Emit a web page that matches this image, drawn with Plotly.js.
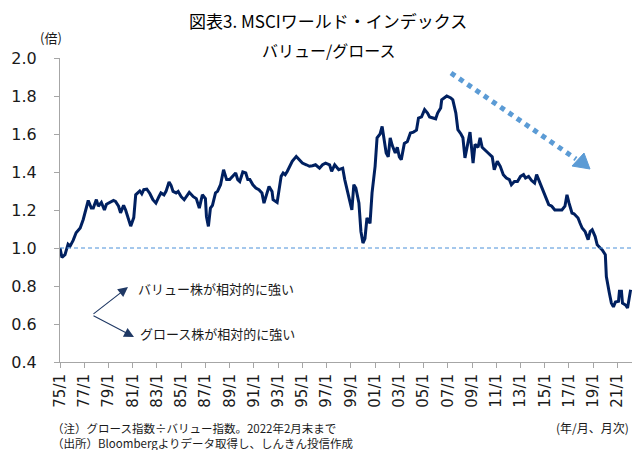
<!DOCTYPE html>
<html>
<head>
<meta charset="utf-8">
<script src="https://cdn.plot.ly/plotly-3.0.1.min.js"></script>
<style>html,body{margin:0;padding:0;background:#fff;}#chart{width:632px;height:450px;}</style>
</head>
<body>
<div id="chart"></div>
<script>
// Monthly points (year-month)
var months = [
"1975-01","1975-03","1975-06","1975-09","1975-11","1976-02","1976-05","1976-09","1976-12","1977-02",
"1977-05","1977-08","1977-10","1978-01","1978-03","1978-06","1978-09","1978-11","1979-02","1979-06",
"1979-08","1979-11","1980-01","1980-04","1980-06","1980-08","1980-11","1981-02","1981-04","1981-06",
"1981-08","1981-10","1981-12","1982-03","1982-06","1982-09","1982-12","1983-03","1983-05","1983-08",
"1983-10","1984-01","1984-03","1984-05","1984-08","1984-10","1985-01","1985-04","1985-06","1985-09",
"1986-01","1986-04","1986-07","1986-10","1987-01","1987-02","1987-04","1987-06","1987-08","1987-11",
"1988-01","1988-04","1988-07","1988-10","1989-01","1989-04","1989-07","1989-09","1989-11","1990-02",
"1990-05","1990-07","1990-09","1990-12","1991-03","1991-06","1991-09","1991-11","1992-01","1992-04",
"1992-07","1992-08","1992-12","1993-04","1993-06","1993-08","1993-10","1994-01","1994-03","1994-07",
"1994-10","1995-01","1995-05","1995-08","1995-11","1996-02","1996-06","1996-09","1996-12","1997-04",
"1997-06","1997-09","1998-01","1998-05","1998-07","1998-10","1999-02","1999-04","1999-06","1999-09",
"1999-11","2000-01","2000-03","2000-05","2000-08","2000-10","2001-01","2001-03","2001-06","2001-08",
"2001-10","2001-12","2002-02","2002-04","2002-06","2002-09","2002-11","2003-01","2003-03","2003-06",
"2003-09","2003-12","2004-03","2004-06","2004-08","2004-11","2005-02","2005-05","2005-07","2005-10",
"2006-01","2006-03","2006-06","2006-07","2006-10","2006-12","2007-04","2007-06","2007-09","2007-11",
"2008-02","2008-04","2008-06","2008-09","2008-11","2009-02","2009-04","2009-07","2009-09","2009-11",
"2010-02","2010-05","2010-09","2010-11","2011-02","2011-05","2011-08","2011-11","2012-02","2012-04",
"2012-07","2012-10","2013-01","2013-04","2013-06","2013-09","2013-12","2014-03","2014-05","2014-07",
"2014-10","2015-01","2015-05","2015-08","2015-11","2016-02","2016-06","2016-09","2016-11","2017-01",
"2017-04","2017-06","2017-10","2017-12","2018-02","2018-05","2018-08","2018-10","2018-12","2019-03",
"2019-05","2019-08","2019-10","2020-01","2020-02","2020-05","2020-07","2020-09","2020-11","2021-02",
"2021-03","2021-05","2021-06","2021-09","2021-11","2022-02"
];
// Value / Growth ratio (times)
var ratio = [
1.00,0.95,0.965,1.02,1.01,1.04,1.08,1.105,1.15,1.19,
1.25,1.21,1.21,1.255,1.22,1.24,1.20,1.23,1.24,1.25,
1.245,1.22,1.185,1.225,1.20,1.165,1.115,1.16,1.28,1.29,
1.30,1.285,1.307,1.31,1.287,1.254,1.236,1.27,1.29,1.28,
1.298,1.347,1.33,1.298,1.29,1.298,1.27,1.254,1.27,1.293,
1.27,1.26,1.21,1.28,1.26,1.166,1.114,1.21,1.225,1.29,
1.298,1.333,1.412,1.36,1.36,1.377,1.395,1.36,1.35,1.40,
1.395,1.36,1.36,1.333,1.316,1.307,1.29,1.236,1.27,1.324,
1.298,1.254,1.24,1.377,1.395,1.386,1.403,1.438,1.456,1.482,
1.465,1.447,1.438,1.43,1.433,1.438,1.42,1.438,1.447,1.438,
1.403,1.438,1.412,1.42,1.36,1.298,1.20,1.333,1.316,1.237,
1.087,1.026,1.05,1.158,1.13,1.29,1.43,1.58,1.60,1.64,
1.57,1.50,1.48,1.58,1.54,1.50,1.53,1.48,1.465,1.55,
1.56,1.605,1.61,1.62,1.684,1.69,1.728,1.71,1.69,1.685,
1.68,1.71,1.737,1.78,1.79,1.80,1.79,1.78,1.71,1.623,
1.60,1.58,1.474,1.57,1.61,1.447,1.545,1.53,1.58,1.53,
1.517,1.50,1.48,1.412,1.456,1.43,1.386,1.368,1.36,1.333,
1.35,1.35,1.377,1.386,1.368,1.377,1.355,1.342,1.386,1.36,
1.316,1.272,1.228,1.22,1.20,1.20,1.20,1.22,1.28,1.237,
1.184,1.18,1.158,1.13,1.105,1.087,1.044,1.087,1.096,1.06,
1.017,1.00,0.99,0.965,0.85,0.763,0.71,0.69,0.716,0.72,
0.772,0.772,0.71,0.70,0.684,0.78
];
var tickLabels = ["75/1","77/1","79/1","81/1","83/1","85/1","87/1","89/1","91/1","93/1","95/1","97/1",
                  "99/1","01/1","03/1","05/1","07/1","09/1","11/1","13/1","15/1","17/1","19/1","21/1"];
var yTicks = [0.4,0.6,0.8,1.0,1.2,1.4,1.6,1.8,2.0];

var tickVals = tickLabels.map(function(s){
  var yy = parseInt(s.split('/')[0],10);
  var yr = yy >= 50 ? 1900+yy : 2000+yy;
  return yr + '-01-01';
});
var xDates = months.map(function(m){ return m + '-01'; });

var L = 60, T = 58, W = 572, H = 304;
function px(x){ return (x - L)/W; }
function py(y){ return (T + H - y)/H; }

var jp = '"Noto Sans CJK JP", "Noto Sans", sans-serif';
var num = '"DejaVu Sans", Verdana, sans-serif';
var txt = '#1a1a1a';
var navy = '#002060';
var lightBlue = '#5b9bd5';

var trace = {
  x: xDates, y: ratio, type: 'scatter', mode: 'lines',
  line: {color: navy, width: 3}, hoverinfo: 'skip'
};

var annotations = [
  {xref:'paper', yref:'paper', x:px(328), y:py(20), text:'図表3. MSCIワールド・インデックス', showarrow:false,
   font:{family:jp, size:17, color:'#000'}, xanchor:'center', yanchor:'middle'},
  {xref:'paper', yref:'paper', x:px(328), y:py(50), text:'バリュー/グロース', showarrow:false,
   font:{family:jp, size:16, color:'#000'}, xanchor:'center', yanchor:'middle'},
  {xref:'paper', yref:'paper', x:px(51), y:py(38), text:'(倍)', showarrow:false,
   font:{family:jp, size:13, color:txt}, xanchor:'center', yanchor:'middle'},
  {xref:'paper', yref:'paper', x:px(631), y:py(427), text:'(年/月、月次)', showarrow:false,
   font:{family:jp, size:12, color:txt}, xanchor:'right', yanchor:'middle'},
  {xref:'paper', yref:'paper', x:px(50), y:py(435), align:'left',
   text:'（注）グロース指数÷バリュー指数。2022年2月末まで<br>（出所）Bloombergよりデータ取得し、しんきん投信作成', showarrow:false,
   font:{family:jp, size:11.5, color:txt}, xanchor:'left', yanchor:'middle'},
  {xref:'paper', yref:'paper', x:px(136), y:py(288), text:'バリュー株が相対的に強い', showarrow:false,
   font:{family:jp, size:13, color:txt}, xanchor:'left', yanchor:'middle'},
  {xref:'paper', yref:'paper', x:px(138), y:py(333), text:'グロース株が相対的に強い', showarrow:false,
   font:{family:jp, size:13, color:txt}, xanchor:'left', yanchor:'middle'},
  // two small arrows from the common vertex
  {xref:'paper', yref:'paper', x:px(128), y:py(287), ax:-36, ay:28, text:'', showarrow:true,
   arrowhead:2, arrowsize:1.8, arrowwidth:1.1, arrowcolor:'#1f3864', standoff:0, startstandoff:0},
  {xref:'paper', yref:'paper', x:px(134), y:py(337), ax:-42, ay:-22, text:'', showarrow:true,
   arrowhead:2, arrowsize:1.8, arrowwidth:1.1, arrowcolor:'#1f3864', standoff:0, startstandoff:0}
];

var shapes = [
  {type:'line', xref:'paper', yref:'y', x0:0, x1:1, y0:1.0, y1:1.0,
   line:{color:'#4a90d9', width:1, dash:'4px,3px'}},
  {type:'line', xref:'paper', yref:'paper', x0:px(451), y0:py(73), x1:px(576), y1:py(159),
   line:{color:lightBlue, width:5, dash:'dot'}},
  {type:'path', xref:'paper', yref:'paper',
   path:'M '+px(572)+' '+py(166)+' L '+px(584)+' '+py(153)+' L '+px(590)+' '+py(169)+' Z',
   fillcolor:lightBlue, line:{color:lightBlue, width:1}}
];

var layout = {
  width:632, height:450,
  margin:{l:L, r:632-L-W, t:T, b:450-T-H},
  paper_bgcolor:'#fff', plot_bgcolor:'#fff',
  showlegend:false,
  xaxis:{
    type:'date', range:['1975-01-01','2022-03-15'],
    tickmode:'array', tickvals:tickVals, ticktext:tickLabels,
    tickangle:-90, ticks:'outside', ticklen:5, tickcolor:'#a6a6a6',
    showline:true, linecolor:'#a6a6a6', linewidth:1, showgrid:false, zeroline:false,
    tickfont:{family:num, size:15, color:txt}
  },
  yaxis:{
    range:[0.4,2.0], tickmode:'array', tickvals:yTicks, ticktext:yTicks.map(function(v){return v.toFixed(1);}),
    ticks:'outside', ticklen:5, tickcolor:'#a6a6a6',
    showline:true, linecolor:'#a6a6a6', linewidth:1, showgrid:false, zeroline:false,
    tickfont:{family:num, size:16, color:txt}, ticklabelstandoff:14
  },
  annotations:annotations,
  shapes:shapes
};

Plotly.newPlot('chart', [trace], layout, {staticPlot:true, displayModeBar:false});
</script>
</body>
</html>
